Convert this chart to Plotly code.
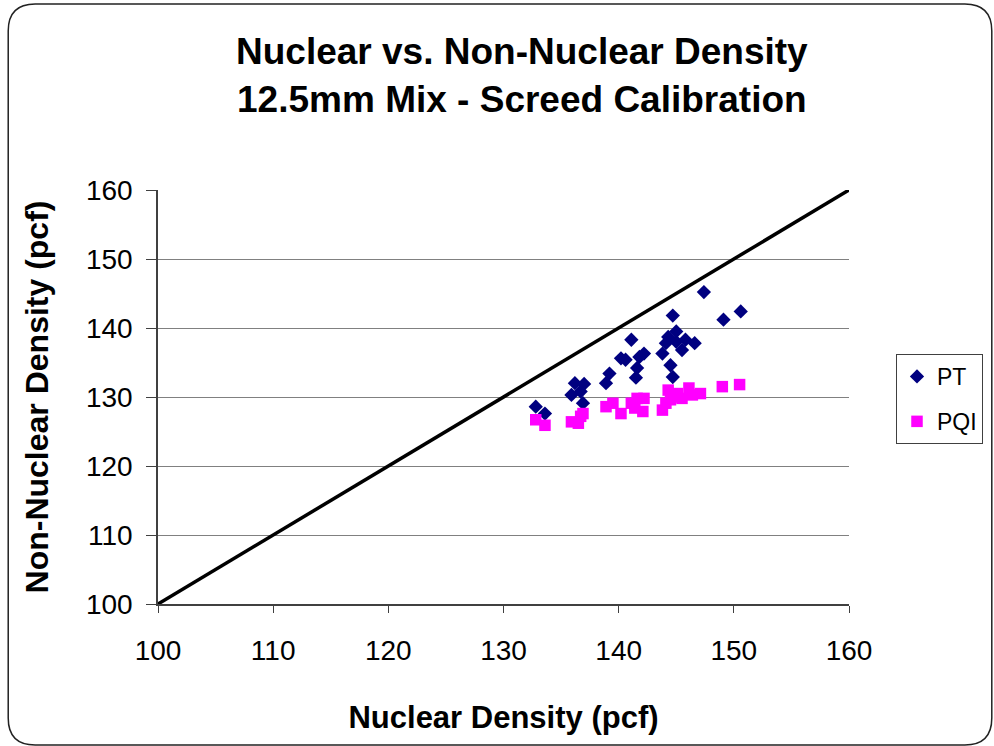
import plotly.graph_objects as go

# ---- data ----
pt_x = [147.4, 144.7, 149.1, 150.6, 141.1, 145.0, 144.3, 145.0, 145.8, 146.6,
        145.5, 144.1, 143.8, 140.2, 140.6, 142.2, 141.8, 141.6, 141.5, 144.5,
        144.7, 139.2, 138.9, 136.2, 137.0, 135.9, 136.7, 136.9, 132.8, 133.6]
pt_y = [145.2, 141.8, 141.2, 142.4, 138.3, 139.5, 138.7, 138.0, 138.3, 137.8,
        136.8, 137.8, 136.3, 135.6, 135.4, 136.3, 135.8, 134.2, 132.8, 134.6,
        132.9, 133.4, 132.0, 132.0, 131.9, 130.3, 130.8, 129.1, 128.6, 127.6]

pqi_x = [132.8, 133.6, 135.9, 136.7, 136.5, 136.9, 138.9, 139.5, 140.2, 141.1,
         141.6, 142.2, 142.1, 141.4, 143.8, 144.3, 144.5, 145.1, 146.1, 145.5,
         147.1, 146.4, 149.0, 150.5, 144.1, 145.0]
pqi_y = [126.7, 125.9, 126.4, 127.2, 126.2, 127.6, 128.6, 129.1, 127.6, 129.1,
         129.8, 129.8, 127.9, 128.4, 128.1, 131.0, 129.6, 130.5, 131.3, 129.8,
         130.5, 130.3, 131.5, 131.8, 129.1, 130.0]

equality_x = [100, 160]
equality_y = [100, 160]

x_ticks = [100, 110, 120, 130, 140, 150, 160]
y_ticks = [100, 110, 120, 130, 140, 150, 160]

FONT = "Liberation Sans, Arial, sans-serif"
W, H = 994, 746
L, R, T, B = 158, 144, 190, 142

fig = go.Figure()
fig.add_trace(go.Scatter(x=equality_x, y=equality_y, mode="lines",
                         line=dict(color="black", width=3.5), showlegend=False,
                         hoverinfo="skip"))
fig.add_trace(go.Scatter(x=pt_x, y=pt_y, mode="markers", name="PT",
                         legendgroup="a",
                         marker=dict(symbol="diamond", size=11, color="#000080",
                                     line=dict(width=0))))
fig.add_trace(go.Scatter(x=pqi_x, y=pqi_y, mode="markers", name="PQI",
                         legendgroup="b",
                         marker=dict(symbol="square", size=11.5, color="#FF00FF",
                                     line=dict(width=0))))

# rounded border around whole figure (pixel -> paper conversion)
pw, ph = W - L - R, H - T - B
def px(xp):
    return (xp - L) / pw
def py(yp):
    return (H - B - yp) / ph
x0, x1, y0, y1, r = 8, 993, 4, 745, 27
path = (f"M {px(x0+r)},{py(y0)} L {px(x1-r)},{py(y0)} "
        f"Q {px(x1)},{py(y0)} {px(x1)},{py(y0+r)} "
        f"L {px(x1)},{py(y1-r)} Q {px(x1)},{py(y1)} {px(x1-r)},{py(y1)} "
        f"L {px(x0+r)},{py(y1)} Q {px(x0)},{py(y1)} {px(x0)},{py(y1-r)} "
        f"L {px(x0)},{py(y0+r)} Q {px(x0)},{py(y0)} {px(x0+r)},{py(y0)} Z")
fig.add_shape(type="path", path=path, xref="paper", yref="paper",
              line=dict(color="#222222", width=1.5), layer="below")

fig.update_layout(
    width=W, height=H,
    margin=dict(l=L, r=R, t=T, b=B),
    paper_bgcolor="white", plot_bgcolor="white",
    font=dict(family=FONT, color="black"),
    title=dict(text="<b>Nuclear vs. Non-Nuclear Density<br>12.5mm Mix - Screed Calibration</b>",
               font=dict(size=37, family=FONT), x=0.525, xanchor="center",
               y=1 - 64 / H, yanchor="middle"),
    xaxis=dict(range=[100, 160], tickvals=x_ticks, showgrid=False,
               showline=True, linecolor="#404040", linewidth=1.5,
               ticks="outside", ticklen=7, tickcolor="#404040",
               tickfont=dict(size=28), ticklabelstandoff=14,
               title=dict(text="<b>Nuclear Density (pcf)</b>",
                          font=dict(size=31), standoff=41),
               zeroline=False),
    yaxis=dict(range=[100, 160], tickvals=y_ticks, showgrid=True,
               gridcolor="#808080", gridwidth=1.2,
               showline=True, linecolor="#404040", linewidth=1.5,
               ticks="outside", ticklen=10, tickcolor="#404040",
               tickfont=dict(size=28), ticklabelstandoff=8,
               title=dict(text="<b>Non-Nuclear Density (pcf)</b>",
                          font=dict(size=32), standoff=28),
               zeroline=False),
    legend=dict(x=px(983), y=py(354), xanchor="right", yanchor="top",
                bordercolor="#404040", borderwidth=1, bgcolor="white",
                font=dict(size=23), tracegroupgap=12, itemwidth=30),
    showlegend=True,
)

fig.write_html("out.html", config={"displayModeBar": False},
               post_script="document.body.style.margin='0';document.body.style.overflow='hidden';")
